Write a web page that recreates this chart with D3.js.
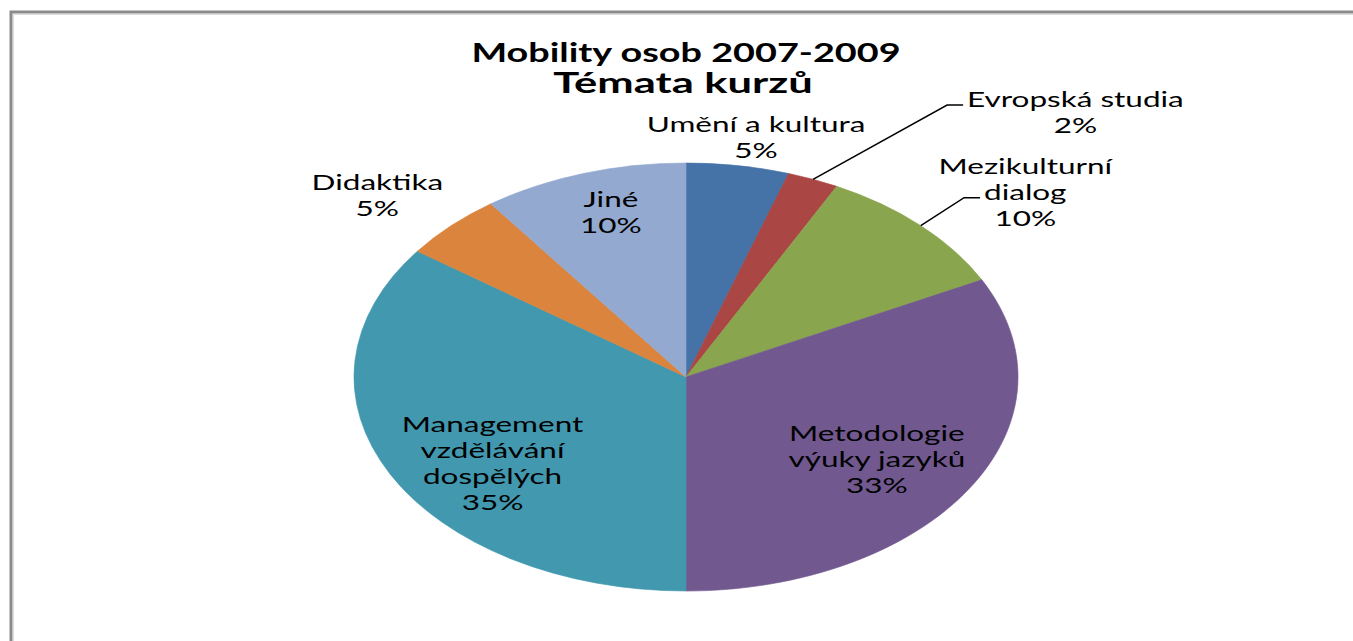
<!DOCTYPE html>
<html>
<head>
<meta charset="utf-8">
<style>
    body { margin: 0; background: #fff; }
    text { font-family: Lato, "Open Sans", sans-serif; fill: #000; }
</style>
</head>
<body>
<script src="https://d3js.org/d3.v7.min.js"></script>
<script>
    // data
    const categories = ["Umění a kultura", "Evropská studia", "Mezikulturní dialog", "Metodologie výuky jazyků",
        "Management vzdělávání dospělých", "Didaktika", "Jiné"];
    const categoryLines = [["Umění a kultura"], ["Evropská studia"], ["Mezikulturní", "dialog"],
        ["Metodologie", "výuky jazyků"], ["Management", "vzdělávání", "dospělých"], ["Didaktika"], ["Jiné"]];
    const values = [5, 2.5, 10, 32.5, 35, 5, 10];
    const pctLabels = ["5%", "2%", "10%", "33%", "35%", "5%", "10%"];
    const colors = ["#4572A7", "#AA4643", "#89A54E", "#71588F", "#4198AF", "#DB843D", "#93A9CF"];
    const titleLines = ["Mobility osob 2007-2009", "Témata kurzů"];

    // label layout: angle (deg, clockwise from top), radius (fraction of pie), leader line?
    const labelAngle = [10.7, 43.5, 49.8, 123.7, 235.4, 312.3, 343.6];
    const labelRadius = [1.137, 1.704, 1.338, 0.691, 0.708, 1.257, 0.801];
    const labelLeader = [false, true, true, false, false, false, false];

    const W = 1353, H = 641;
    const cx = 686, cy = 377, ry = 214, rx = 332;
    const sx = rx / ry;      // the chart is stretched horizontally
    const tx = 1.5;          // horizontal stretch of the text
    const fs = 21, cap = 15, lh = 26;

    const svg = d3.select("body").append("svg").attr("width", W).attr("height", H);

    // frame
    svg.append("path").attr("d", `M11,${H} V12 H${W}`)
        .attr("fill", "none").attr("stroke", "#8a8a8a").attr("stroke-width", 3);
    svg.append("path").attr("d", `M13.5,${H} V14.5 H${W}`)
        .attr("fill", "none").attr("stroke", "#dcdcdc").attr("stroke-width", 1);

    // title
    const tt = svg.append("g");
    tt.append("text").attr("transform", `translate(686,62) scale(1.4,1)`)
        .attr("text-anchor", "middle").attr("font-weight", 700).attr("font-size", 27)
        .text(titleLines[0]);
    tt.append("text").attr("transform", `translate(683,93) scale(${tx},1)`)
        .attr("text-anchor", "middle").attr("font-weight", 700).attr("font-size", 29)
        .text(titleLines[1]);

    // pie
    const pie = d3.pie().sort(null).value(d => d)(values);
    const arc = d3.arc().innerRadius(0).outerRadius(ry);
    const g = svg.append("g").attr("transform", `translate(${cx},${cy}) scale(${sx},1)`);
    g.selectAll("path").data(pie).enter().append("path")
        .attr("d", arc)
        .attr("fill", (d, i) => colors[i])
        .attr("stroke", (d, i) => colors[i])
        .attr("stroke-width", 0.5);

    // labels
    const pt = (a, r) => {
        const t = a * Math.PI / 180;
        return [cx + Math.sin(t) * rx * r, cy - Math.cos(t) * ry * r];
    };

    const labels = svg.append("g");
    pie.forEach((d, i) => {
        const lines = categoryLines[i].concat([pctLabels[i]]);
        const [lx, ly] = pt(labelAngle[i], labelRadius[i]);
        const h = cap + (lines.length - 1) * lh;
        const y0 = ly - h / 2 + cap;
        const lg = labels.append("g");
        const widths = [];
        lines.forEach((s, j) => {
            const t = lg.append("text")
                .attr("transform", `translate(${lx},${y0 + j * lh}) scale(${tx},1)`)
                .attr("text-anchor", "middle")
                .attr("font-size", fs)
                .attr("fill", "#111")
                .text(s);
            widths.push(t.node().getComputedTextLength() * tx);
        });
        if (labelLeader[i]) {
            const k = Math.floor((lines.length - 1) / 2);
            const ex = lx - widths[k] / 2 - 4;
            const ey = y0 + k * lh - 2;
            const mid = (d.startAngle + d.endAngle) / 2 * 180 / Math.PI;
            const [sx0, sy0] = pt(mid, 1);
            labels.append("path")
                .attr("d", d3.line()([[sx0, sy0], [ex - 16, ey], [ex, ey]]))
                .attr("fill", "none").attr("stroke", "#000").attr("stroke-width", 1.5);
        }
    });
</script>
</body>
</html>
